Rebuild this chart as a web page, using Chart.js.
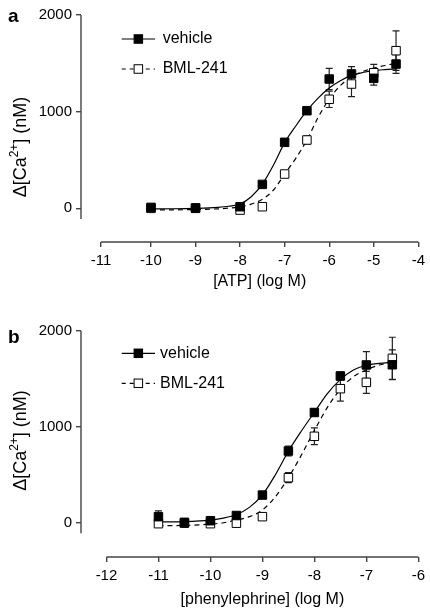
<!DOCTYPE html>
<html>
<head>
<meta charset="utf-8">
<script src="https://cdn.jsdelivr.net/npm/chart.js@4.4.0/dist/chart.umd.min.js"></script>
<style>
  html, body { margin: 0; padding: 0; background: #fff; }
  .panel { position: absolute; left: 0; width: 430px; }
</style>
</head>
<body>
<div class="panel" style="top:0;height:300px"><canvas id="chart-a" width="430" height="300"></canvas></div>
<div class="panel" style="top:300px;height:310px"><canvas id="chart-b" width="430" height="310"></canvas></div>
<script>
// --- panel a: ATP ---
const atpLogConc = [-10, -9, -8, -7.5, -7, -6.5, -6, -5.5, -5, -4.5];
const atpVehicle = [10, 5, 17, 248, 683, 1010, 1338, 1390, 1345, 1493];
const atpVehicleErr = [15, 10, 15, 20, 25, 30, 110, 75, 70, 96];
const atpBml = [0, 0, -18, 17, 355, 707, 1128, 1286, 1403, 1631];
const atpBmlErr = [10, 10, 15, 20, 25, 40, 85, 130, 87, 204];

const atpCurveX = [-10, -9.5, -9, -8.5, -8.25, -8, -7.75, -7.5, -7.25, -7, -6.75, -6.5, -6.25, -6, -5.75, -5.5, -5.25, -5, -4.75, -4.5];
const atpVehicleFit = [-5, -4, 0, 10, 22, 45, 120, 250, 448, 680, 852, 1010, 1140, 1245, 1320, 1375, 1405, 1425, 1435, 1442];
const atpBmlFit = [-15, -15, -12, -5, 3, 15, 44, 93, 190, 355, 517, 707, 940, 1131, 1270, 1360, 1415, 1450, 1478, 1500];

// first tick of the ATP axis sits a little left of -11 in the original
const atpTickPos = [-11.12, -10, -9, -8, -7, -6, -5, -4];
const atpTickLabels = ['-11', '-10', '-9', '-8', '-7', '-6', '-5', '-4'];

// --- panel b: phenylephrine ---
const pheLogConc = [-11, -10.5, -10, -9.5, -9, -8.5, -8, -7.5, -7, -6.5];
const pheVehicle = [63, 4, 21, 75, 288, 747, 1148, 1528, 1643, 1645];
const pheVehicleErr = [60, 15, 15, 20, 30, 52, 35, 40, 140, 155];
const pheBml = [-10, -5, -10, -5, 63, 469, 900, 1396, 1462, 1712];
const pheBmlErr = [20, 10, 10, 10, 15, 52, 87, 130, 115, 220];

const pheCurveX = [-11, -10.5, -10, -9.75, -9.5, -9.25, -9, -8.75, -8.5, -8.25, -8, -7.75, -7.5, -7.25, -7, -6.75, -6.5];
const pheVehicleFit = [8, 12, 28, 48, 85, 160, 290, 500, 745, 955, 1150, 1345, 1490, 1590, 1640, 1660, 1671];
const pheBmlFit = [-30, -28, -14, 0, 28, 63, 132, 271, 469, 705, 960, 1202, 1390, 1521, 1591, 1643, 1668];

const pheTickPos = [-12, -11, -10, -9, -8, -7, -6];
const pheTickLabels = ['-12', '-11', '-10', '-9', '-8', '-7', '-6'];

const yTicks = [0, 1000, 2000];
const seriesNames = ['vehicle', 'BML-241'];

const FONT = '"Liberation Sans", Arial, Helvetica, sans-serif';
const AXIS_COLOR = '#444';

function toPoints(xs, ys) {
    return xs.map((x, i) => ({ x: x, y: ys[i] }));
}

function drawSquare(ctx, x, y, filled) {
    const s = 8.5;
    ctx.setLineDash([]);
    ctx.fillStyle = filled ? '#000' : '#fff';
    ctx.fillRect(x - s / 2, y - s / 2, s, s);
    ctx.strokeStyle = '#000';
    ctx.lineWidth = 1;
    ctx.strokeRect(x - s / 2, y - s / 2, s, s);
}

// error bars under the marks, then axes, titles, legend and the panel letter
const figurePlugin = {
    id: 'figure',
    beforeDatasetsDraw(chart, args, opts) {
        const ctx = chart.ctx;
        const xs = chart.scales.x, ys = chart.scales.y;
        ctx.save();
        ctx.strokeStyle = '#222';
        ctx.lineWidth = 1.2;
        opts.errors.forEach(e => {
            e.y.forEach((v, i) => {
                const px = xs.getPixelForValue(e.x[i]);
                const top = ys.getPixelForValue(v + e.err[i]);
                const bot = ys.getPixelForValue(v - e.err[i]);
                ctx.beginPath();
                ctx.moveTo(px, top); ctx.lineTo(px, bot);
                ctx.moveTo(px - 3.5, top); ctx.lineTo(px + 3.5, top);
                ctx.moveTo(px - 3.5, bot); ctx.lineTo(px + 3.5, bot);
                ctx.stroke();
            });
        });
        ctx.restore();
    },
    afterDraw(chart, args, opts) {
        const ctx = chart.ctx;
        const area = chart.chartArea;
        const xs = chart.scales.x, ys = chart.scales.y;
        ctx.save();

        // axis lines (detached, like the original)
        ctx.strokeStyle = AXIS_COLOR;
        ctx.lineWidth = 1.4;
        ctx.beginPath();
        ctx.moveTo(area.left, ys.getPixelForValue(yTicks[yTicks.length - 1]));
        ctx.lineTo(area.left, ys.getPixelForValue(opts.yAxisEnd));
        const x0 = xs.getPixelForValue(opts.tickPos[0]);
        const x1 = xs.getPixelForValue(opts.tickPos[opts.tickPos.length - 1]);
        ctx.moveTo(x0, area.bottom);
        ctx.lineTo(x1, area.bottom);
        ctx.stroke();

        // x title
        ctx.fillStyle = '#000';
        ctx.font = '16px ' + FONT;
        ctx.textAlign = 'center';
        ctx.textBaseline = 'middle';
        ctx.fillText(opts.xTitle, (x0 + x1) / 2, opts.xTitleY);

        // y title with superscript
        ctx.save();
        ctx.translate(21, opts.yTitleY);
        ctx.rotate(-Math.PI / 2);
        ctx.textAlign = 'left';
        const partA = '\u0394[Ca', sup = '2+', partB = '] (nM)';
        const big = '18px ' + FONT, small = '12px ' + FONT;
        ctx.font = big;
        const wA = ctx.measureText(partA).width, wB = ctx.measureText(partB).width;
        ctx.font = small;
        const wS = ctx.measureText(sup).width;
        let cx = -(wA + wS + wB) / 2;
        ctx.font = big;
        ctx.fillText(partA, cx, 0);
        cx += wA;
        ctx.font = small;
        ctx.fillText(sup, cx, -6);
        cx += wS;
        ctx.font = big;
        ctx.fillText(partB, cx, 0);
        ctx.restore();

        // legend
        const lg = opts.legend;
        seriesNames.forEach((name, i) => {
            const y = lg.rows[i];
            ctx.strokeStyle = '#000';
            ctx.lineWidth = 1.2;
            ctx.setLineDash(i === 0 ? [] : [4, 4]);
            ctx.beginPath();
            ctx.moveTo(lg.x1, y);
            ctx.lineTo(lg.x2, y);
            ctx.stroke();
            drawSquare(ctx, (lg.x1 + lg.x2) / 2, y, i === 0);
            ctx.fillStyle = '#000';
            ctx.font = '16px ' + FONT;
            ctx.textAlign = 'left';
            ctx.textBaseline = 'middle';
            ctx.fillText(name, lg.textX, y);
        });

        // panel letter
        ctx.font = 'bold 19px ' + FONT;
        ctx.textAlign = 'left';
        ctx.textBaseline = 'alphabetic';
        ctx.fillText(opts.letter, 8, opts.letterY);
        ctx.restore();
    }
};

function buildChart(canvasId, cfg) {
    const markerBase = { showLine: false, pointStyle: 'rect', pointRadius: 6, pointHoverRadius: 6, borderWidth: 1 };
    const curveBase = { showLine: true, pointRadius: 0, borderColor: '#000', borderWidth: 1.2, cubicInterpolationMode: 'monotone', fill: false };

    return new Chart(document.getElementById(canvasId), {
        type: 'scatter',
        data: {
            datasets: [
                { ...markerBase, data: toPoints(cfg.conc, cfg.vehicle), backgroundColor: '#000', borderColor: '#000' },
                { ...markerBase, data: toPoints(cfg.conc, cfg.bml), backgroundColor: '#fff', borderColor: '#000' },
                { ...curveBase, data: toPoints(cfg.curveX, cfg.vehicleFit) },
                { ...curveBase, data: toPoints(cfg.curveX, cfg.bmlFit), borderDash: [5, 4] }
            ]
        },
        options: {
            responsive: false,
            animation: false,
            devicePixelRatio: 1,
            layout: { autoPadding: false, padding: { left: 0, right: 8, top: cfg.padTop, bottom: 0 } },
            plugins: {
                legend: { display: false },
                tooltip: { enabled: false },
                figure: {
                    errors: [
                        { x: cfg.conc, y: cfg.vehicle, err: cfg.vehicleErr },
                        { x: cfg.conc, y: cfg.bml, err: cfg.bmlErr }
                    ],
                    tickPos: cfg.tickPos,
                    yAxisEnd: -110,
                    xTitle: cfg.xTitle,
                    xTitleY: cfg.xTitleY,
                    yTitleY: cfg.yTitleY,
                    legend: cfg.legend,
                    letter: cfg.letter,
                    letterY: cfg.letterY
                }
            },
            scales: {
                x: {
                    type: 'linear',
                    min: cfg.xMin,
                    max: cfg.xMax,
                    afterFit: s => { s.height = cfg.xAxisHeight; },
                    afterBuildTicks: s => { s.ticks = cfg.tickPos.map(v => ({ value: v })); },
                    border: { display: false },
                    grid: { drawOnChartArea: false, drawTicks: true, tickLength: 5, color: AXIS_COLOR, lineWidth: 1.4 },
                    ticks: {
                        color: '#000',
                        font: { family: FONT, size: 15 },
                        padding: 5,
                        maxRotation: 0,
                        autoSkip: false,
                        callback: (v, i) => cfg.tickLabels[i]
                    }
                },
                y: {
                    type: 'linear',
                    min: cfg.yMin,
                    max: 2000,
                    afterFit: s => { s.width = 81; },
                    afterBuildTicks: s => { s.ticks = yTicks.map(v => ({ value: v })); },
                    border: { display: false },
                    grid: { drawOnChartArea: false, drawTicks: true, tickLength: 5, color: AXIS_COLOR, lineWidth: 1.4 },
                    ticks: {
                        color: '#000',
                        font: { family: FONT, size: 15 },
                        padding: 4,
                        callback: v => String(v)
                    }
                }
            }
        },
        plugins: [figurePlugin]
    });
}

buildChart('chart-a', {
    conc: atpLogConc, vehicle: atpVehicle, vehicleErr: atpVehicleErr, bml: atpBml, bmlErr: atpBmlErr,
    curveX: atpCurveX, vehicleFit: atpVehicleFit, bmlFit: atpBmlFit,
    tickPos: atpTickPos, tickLabels: atpTickLabels,
    xMin: -11.57, xMax: -4, yMin: -348, padTop: 15, xAxisHeight: 58,
    xTitle: '[ATP] (log M)', xTitleY: 282, yTitleY: 147,
    legend: { x1: 121.7, x2: 155, textX: 162.7, rows: [39, 69] },
    letter: 'a', letterY: 22
});

buildChart('chart-b', {
    conc: pheLogConc, vehicle: pheVehicle, vehicleErr: pheVehicleErr, bml: pheBml, bmlErr: pheBmlErr,
    curveX: pheCurveX, vehicleFit: pheVehicleFit, bmlFit: pheBmlFit,
    tickPos: pheTickPos, tickLabels: pheTickLabels,
    xMin: -12.49, xMax: -6, yMin: -357, padTop: 30.7, xAxisHeight: 53,
    xTitle: '[phenylephrine] (log M)', xTitleY: 300, yTitleY: 140.5,
    legend: { x1: 121.7, x2: 155, textX: 160, rows: [53.3, 83.3] },
    letter: 'b', letterY: 43
});
</script>
</body>
</html>
